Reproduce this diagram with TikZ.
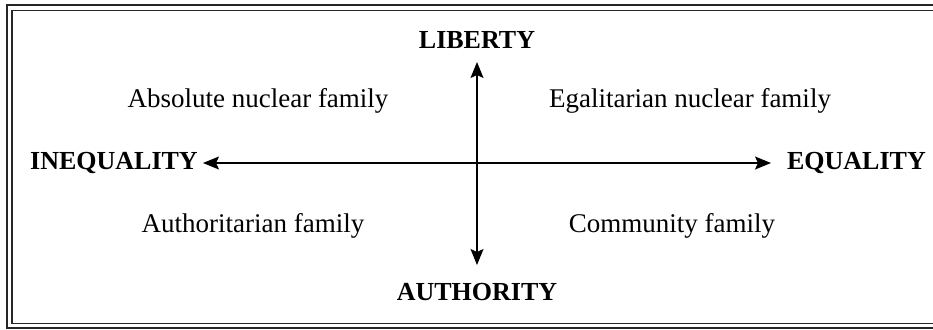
\documentclass[tikz,border=0pt]{standalone}
\usepackage{fontspec}
\setmainfont{Liberation Serif}
\usetikzlibrary{arrows.meta}
\begin{document}
\begin{tikzpicture}[x=1pt,y=-1pt,
  axislabel/.style={font=\fontsize{26}{31}\selectfont\bfseries, inner sep=0pt},
  quad/.style={font=\fontsize{27}{32}\selectfont, inner sep=0pt},
  axis/.style={line width=1.3pt, {Stealth[length=16pt,width=13pt,inset=3pt]}-{Stealth[length=16pt,width=13pt,inset=3pt]}}]
\useasboundingbox (0,0) rectangle (933,329);
\draw[line width=2pt, black!85] (7,5.5) rectangle (938,328);
\draw[line width=1.4pt, black!85] (12,10.5) rectangle (934,323.5);
\node[axislabel] (lib) at (477,40) {LIBERTY};
\node[axislabel] (auth) at (477,292) {AUTHORITY};
\node[axislabel, anchor=west] (ineq) at (30,163) {INEQUALITY};
\node[axislabel, anchor=east] (eq) at (926,163) {EQUALITY};
\node[quad] (anf) at (258,101) {Absolute nuclear family};
\node[quad] (enf) at (690,101) {Egalitarian nuclear family};
\node[quad] (af) at (253,226) {Authoritarian family};
\node[quad] (cf) at (672,226) {Community family};
\coordinate (top) at (477,62);
\coordinate (bot) at (477,265);
\coordinate (lft) at (203,163);
\coordinate (rgt) at (771,163);
\draw[axis] (top) -- (bot);
\draw[axis] (lft) -- (rgt);
\end{tikzpicture}
\end{document}
